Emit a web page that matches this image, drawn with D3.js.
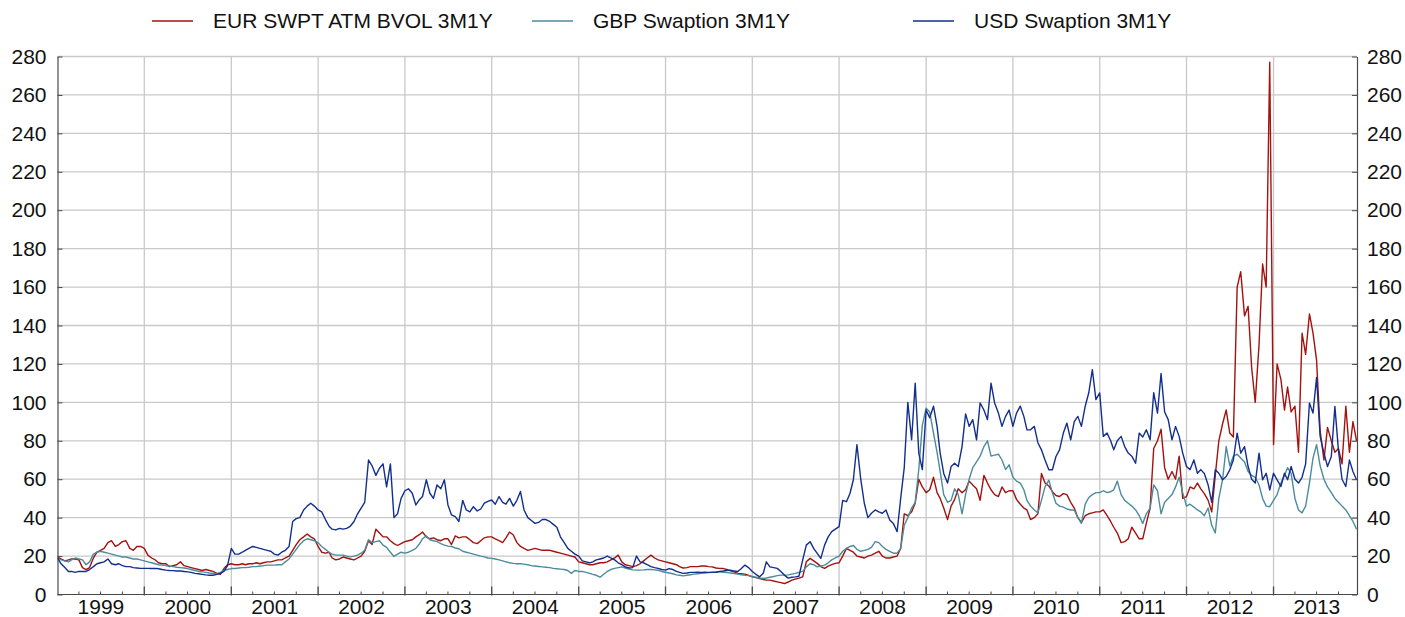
<!DOCTYPE html>
<html>
<head>
<meta charset="utf-8">
<script src="https://cdn.jsdelivr.net/npm/d3@7"></script>
<style>
  body { margin: 0; background: #fff; }
  svg { display: block; }
  text { font-family: "Liberation Sans", Arial, Helvetica, sans-serif; fill: #111; }
</style>
</head>
<body>
<svg id="chart" width="1405" height="617"></svg>
<script>
// Series names, in legend order
const seriesNames = ["EUR SWPT ATM BVOL 3M1Y", "GBP Swaption 3M1Y", "USD Swaption 3M1Y"];

// Semi-monthly readings (1st and 16th of each month), Jan 1999 - Dec 2013, one row per year
const eurVol = [
  19.5, 18.5, 17.5, 18, 18.5, 18.5, 18, 14, 13, 14, 19, 22, 23, 24, 27, 28, 25, 26, 27.5, 28, 24, 23, 25, 25,
  24, 20.5, 19, 18, 16.5, 16, 16, 14.5, 15, 15.5, 17, 15, 14.5, 14, 13.5, 13, 12.5, 13, 12.5, 12, 11, 10.5, 13.5, 15.5,
  16, 15.5, 15.5, 16, 15.5, 16, 16, 16.5, 16, 16.5, 17, 17, 17.5, 18, 18, 19, 20, 23, 26, 28.5, 30, 31.5, 30, 29,
  25, 22, 21.5, 22, 19, 18, 18.5, 19.5, 19, 18.5, 18, 19, 20, 22.5, 28, 26, 34, 32, 30, 30, 28, 26.5, 25.5, 26.5,
  27.5, 28, 28.5, 30, 31, 32.5, 30, 29, 29.5, 28.5, 28, 29, 29, 26, 30.5, 29.5, 30, 30, 28.5, 27, 26.5, 28, 29.5, 30,
  30, 29, 28, 27, 29.5, 32.5, 31, 27, 25, 24, 23, 23.5, 24, 23.5, 23, 23, 23, 22.5, 22, 21.5, 21, 20.5, 20, 19.5,
  17, 16.5, 16, 15.5, 15.5, 16, 16.5, 16.5, 17, 18, 19, 20.5, 17, 15.5, 15, 14.5, 15, 16, 17.5, 19, 20.5, 19, 18, 17.5,
  17, 16.5, 16, 15.5, 14.5, 13.8, 14, 14.5, 14.5, 14.5, 14.8, 14.8, 14.5, 14.4, 13.8, 13.6, 13.5, 13, 12.3, 11.8, 11, 10.8, 10.6, 10,
  9.2, 8.8, 8.3, 7.8, 7.5, 7.5, 7, 6.6, 6.2, 5.7, 6.5, 7.5, 8, 8.5, 9.2, 17, 18.8, 17.5, 16.2, 14.5, 13.6, 14.8, 15.5, 16.2,
  16.5, 20, 24, 23, 22, 20, 19.5, 19, 20, 20.5, 21.5, 22.5, 20, 19, 19, 19.5, 20, 24, 42, 41, 43, 47.5, 60, 56,
  53, 54.5, 61, 53, 50, 45, 39, 46, 49.5, 55, 53, 54.5, 59, 57, 55, 49, 62, 58, 54.5, 52, 51, 56, 53, 54,
  54, 49.5, 47, 45, 44, 39, 40, 42, 63, 58, 56.5, 53.5, 51.5, 51, 52.5, 52, 48, 45, 40, 37.5, 41, 42, 42.5, 43,
  43, 44, 41, 38, 35, 32, 27, 27.5, 29, 35, 32, 29, 29, 37, 45, 76, 80, 86, 66, 60, 64, 60, 72, 50,
  51, 56, 55, 58, 55, 52.5, 49, 43, 62, 80, 89, 96, 84, 82, 160, 168, 145, 150, 118, 100, 130, 172, 160, 277,
  78, 120, 112, 96, 108, 95, 98, 74, 136, 125, 146, 136, 122, 85, 70, 87, 80, 74, 76, 68, 98, 74, 90, 80
];

const gbpVol = [
  19, 18, 17.5, 17, 18, 19, 18.5, 18, 15.5, 17, 21, 22, 22.5, 22, 21.5, 21, 20.5, 20, 19.5, 19.5, 19, 18.5, 18.5, 18,
  17.5, 17, 16.5, 16, 15.5, 15.3, 15, 14.8, 14.5, 14.2, 14, 13.8, 13.5, 13, 12.5, 12, 11.8, 11.5, 11.2, 11, 11, 11.5, 12.5, 13,
  13.5, 13.5, 13.8, 14, 14, 14.2, 14.5, 14.5, 14.8, 15, 15.3, 15.3, 15.3, 15.5, 15.5, 17, 18.5, 21, 23.5, 26, 28, 29, 28.5, 28,
  27, 25, 23.5, 22, 21, 20.5, 20.5, 20.5, 20, 19.6, 20, 20.5, 21.5, 23, 28.5, 27, 27.5, 28, 25.7, 24.5, 22, 19.8, 21, 22,
  21.5, 22, 23, 24, 26, 29, 30.5, 28.5, 28, 27.5, 26.5, 25.7, 25.2, 25, 24.2, 23.8, 22.5, 22, 21.5, 21, 20.5, 20, 19.6, 19,
  18.8, 18.5, 18, 17.5, 17, 16.5, 16.2, 16, 16, 15.8, 15.5, 15, 14.8, 14.6, 14.4, 14.2, 14, 13.6, 13.4, 13.2, 13, 12.5, 11, 12.5,
  12, 12, 11.5, 11, 10.5, 10, 9, 10.5, 12, 13, 13.6, 14, 14.4, 13.8, 13.2, 12.8, 12.7, 12.7, 12.8, 13, 13, 12.8, 12.6, 12,
  11.6, 11.2, 10.8, 10.2, 10, 9.7, 10, 10.3, 10.6, 10.8, 11, 11.2, 11.4, 11.6, 11.8, 11.8, 11.6, 11.4, 11.2, 10.9, 10.6, 10.3, 10, 9.8,
  9.4, 9, 8.6, 8.3, 8.6, 9, 9.4, 9.8, 10.1, 10.1, 10.2, 10.6, 11, 11.5, 12, 14.4, 16, 15.5, 14.4, 14.8, 15.3, 16.5, 18, 19,
  20, 22.5, 24, 25, 25.5, 23.5, 22.5, 23, 23.5, 24.5, 27.5, 27, 25, 23.5, 22.5, 21.5, 21.5, 24, 36, 40, 45, 48, 65, 88,
  97, 95, 84, 74, 64, 52, 48, 49, 55, 52, 42, 52, 60, 66, 69, 72, 77, 80, 72, 72.5, 73, 70, 65, 67.5,
  61, 59, 58, 54.5, 49, 46, 44, 42.5, 49, 56, 59.5, 53, 47.5, 46, 45.5, 44.5, 44, 44, 40, 37, 47, 50.5, 52, 53,
  53, 54, 53, 53.5, 54.5, 59, 52, 49, 47.5, 46, 44, 41, 37, 42, 45, 57, 54, 42, 48, 50, 52, 56, 61, 53,
  46, 47, 45.5, 44, 43, 41, 45, 36, 32, 50, 60, 77, 67, 72, 73, 71, 69, 64, 62, 61, 57, 50, 46, 45.7,
  49, 52, 58, 62, 66, 63, 50, 44, 42.5, 46, 58, 71, 78, 67, 60, 56, 53, 50, 48, 46, 44, 41, 38, 34
];

const usdVol = [
  19, 16, 14, 12, 12, 11.5, 12, 12, 12, 13, 14.5, 16, 16.5, 17, 18.5, 16, 15.5, 16, 15, 14.5, 14.5, 14, 13.8, 13.6,
  13.6, 13.6, 13.5, 13.6, 13.4, 13, 12.7, 12.5, 12.4, 12.2, 12.2, 12, 11.8, 11.5, 11, 10.8, 10.5, 10.2, 10, 10, 10.5, 11, 12, 15,
  24, 21, 21, 22, 23, 24, 25, 24.5, 24, 23.5, 23, 22.5, 21, 20.5, 22, 23, 25, 38, 39.5, 40, 44, 46, 47.5, 46,
  44, 43, 39, 35.5, 34, 33.6, 34.4, 34, 34.4, 35.5, 38, 42, 45, 48, 70, 67, 62, 65.7, 68, 56, 68, 40, 42, 50,
  54, 55, 52.7, 46.6, 49, 51, 59.7, 52.7, 50, 57, 55, 59.7, 46.6, 41.4, 40.5, 38, 49, 44, 43, 45.7, 43.5, 44.5, 47.5, 48.5,
  49.2, 47, 51, 48, 47, 50, 46, 49, 53.6, 44, 40, 38.5, 37, 37.5, 39, 39, 38, 36.5, 35, 30, 27, 24, 22.5, 21,
  20, 17.5, 17, 16.5, 17, 18, 18.5, 19, 20, 19, 18, 16.5, 15.5, 14.4, 13.8, 14, 20, 17, 16.5, 15.5, 14.5, 14, 13.6, 13,
  12.7, 13.5, 13, 12, 11.5, 11, 11.2, 11.5, 11.5, 11.6, 11.5, 11.6, 11.5, 11.5, 11.6, 12, 12.2, 12.5, 12.7, 12.2, 12, 13.5, 15.3, 14,
  12, 10.5, 9.2, 11, 17, 14.4, 14, 13.6, 12, 10.1, 8.5, 9, 9.2, 9.5, 18, 25.7, 27.5, 24, 21.4, 18.8, 25.7, 30, 32.7, 34,
  35.3, 49, 48.3, 52.7, 59.7, 78, 60, 47.5, 40, 42.3, 44, 43, 42.3, 44, 38.8, 37, 32.7, 50, 66, 100, 80.5, 110, 73.6, 65,
  96, 92, 98, 87.5, 73.6, 63, 58, 66.6, 68.3, 66.6, 77, 94, 87.5, 91, 80.5, 99.7, 96, 91, 110, 99.7, 94.4, 87.5, 92.7, 96,
  87.5, 94.4, 98, 92.7, 85.7, 85.7, 87.5, 79, 75.3, 70, 64.9, 64.9, 71.8, 75.3, 84, 89.2, 80.5, 90, 92.7, 87.5, 98, 105, 117, 101.4,
  104.9, 82.3, 84, 80, 75.3, 80, 82.3, 77, 73.6, 72, 68.3, 84, 82, 85.7, 80.5, 105, 94.4, 115, 95, 91, 80.5, 87.5, 82.3, 73.6,
  66.6, 65, 70, 63.1, 65, 63, 57, 48, 64.9, 63.1, 59.7, 61.4, 64.9, 70, 84, 73.6, 77, 66.6, 60, 58, 73.6, 59.7, 63.1, 54.4,
  63.1, 59.7, 56.2, 63.1, 59.7, 66.6, 60, 58, 61, 68, 99.7, 94.4, 113, 82.3, 73.6, 66.6, 71.8, 97.9, 75, 60, 56.2, 70, 64, 59.7
];

const yTickValues = [0, 20, 40, 60, 80, 100, 120, 140, 160, 180, 200, 220, 240, 260, 280];
const yearLabels = [1999, 2000, 2001, 2002, 2003, 2004, 2005, 2006, 2007, 2008, 2009, 2010, 2011, 2012, 2013];
const seriesColors = ["#a3120e", "#4b8c9c", "#122f8d"];

// Observation dates: 1st and 16th of every month
const obsDates = d3.range(yearLabels.length * 12).flatMap(m => [
  new Date(Date.UTC(1999, m, 1)), new Date(Date.UTC(1999, m, 16))
]);

const svg = d3.select("#chart");
const plot = { left: 57.5, right: 1357, top: 56.5, bottom: 594.5 };
const fontSize = 21;

const x = d3.scaleUtc()
  .domain([new Date(Date.UTC(1999, 0, 1)), new Date(Date.UTC(2013, 11, 18))])
  .range([plot.left, plot.right]);
const y = d3.scaleLinear().domain([0, 280]).range([plot.bottom, plot.top]);

const gridColor = "#c9c9c9";
const axisColor = "#4a4a4a";

// Horizontal gridlines
svg.append("g").selectAll("line")
  .data(yTickValues.filter(v => v > 0))
  .join("line")
  .attr("x1", plot.left).attr("x2", plot.right)
  .attr("y1", d => y(d)).attr("y2", d => y(d))
  .attr("stroke", gridColor).attr("stroke-width", 1.3);

// Vertical gridlines at year boundaries
const yearStarts = yearLabels.slice(1).map(yr => new Date(Date.UTC(yr, 0, 1)));
svg.append("g").selectAll("line")
  .data(yearStarts)
  .join("line")
  .attr("x1", d => x(d)).attr("x2", d => x(d))
  .attr("y1", plot.top).attr("y2", plot.bottom)
  .attr("stroke", gridColor).attr("stroke-width", 1.3);

// Left and right value axes (ticks point inward)
const leftAxis = d3.axisLeft(y).tickValues(yTickValues).tickSize(-5).tickPadding(11).tickSizeOuter(0);
const rightAxis = d3.axisRight(y).tickValues(yTickValues).tickSize(-5).tickPadding(10).tickSizeOuter(0);

function styleAxis(g) {
  g.select(".domain").attr("stroke", axisColor).attr("stroke-width", 1.2);
  g.selectAll(".tick line").attr("stroke", axisColor);
  g.selectAll(".tick text").attr("font-size", fontSize).attr("fill", "#111")
    .attr("font-family", "'Liberation Sans', Arial, sans-serif");
}
svg.append("g").attr("transform", `translate(${plot.left},0)`).call(leftAxis).call(styleAxis);
svg.append("g").attr("transform", `translate(${plot.right},0)`).call(rightAxis).call(styleAxis);

// Bottom time axis: year ticks, quarterly minor ticks, labels centred in each year
const quarterStarts = d3.utcMonth.every(3).range(new Date(Date.UTC(1999, 0, 1)), new Date(Date.UTC(2013, 11, 18)))
  .filter(d => d.getUTCMonth() !== 0);
const bottom = svg.append("g");
bottom.append("line")
  .attr("x1", plot.left).attr("x2", plot.right)
  .attr("y1", plot.bottom).attr("y2", plot.bottom)
  .attr("stroke", axisColor).attr("stroke-width", 1.2);
bottom.selectAll("line.minor").data(quarterStarts).join("line").attr("class", "minor")
  .attr("x1", d => x(d)).attr("x2", d => x(d))
  .attr("y1", plot.bottom).attr("y2", plot.bottom - 3)
  .attr("stroke", axisColor);
bottom.selectAll("line.major").data(yearStarts).join("line").attr("class", "major")
  .attr("x1", d => x(d)).attr("x2", d => x(d))
  .attr("y1", plot.bottom + 1).attr("y2", plot.bottom - 8)
  .attr("stroke", axisColor).attr("stroke-width", 1.3);
bottom.selectAll("text").data(yearLabels).join("text")
  .attr("x", yr => (x(new Date(Date.UTC(yr, 0, 1))) + x(new Date(Date.UTC(yr + 1, 0, 1)))) / 2)
  .attr("y", 614)
  .attr("text-anchor", "middle")
  .attr("font-size", fontSize)
  .text(yr => yr);

// Series lines, clipped to the plot area
svg.append("clipPath").attr("id", "plot-clip")
  .append("rect").attr("x", plot.left).attr("y", plot.top - 2)
  .attr("width", plot.right - plot.left).attr("height", plot.bottom - plot.top + 2);

const line = d3.line()
  .x((d, i) => x(obsDates[i]))
  .y(d => y(d));

const series = [eurVol, gbpVol, usdVol];
svg.append("g").attr("clip-path", "url(#plot-clip)")
  .selectAll("path")
  .data(series)
  .join("path")
  .attr("d", d => line(d))
  .attr("fill", "none")
  .attr("stroke", (d, i) => seriesColors[i])
  .attr("stroke-width", 1.4)
  .attr("stroke-linejoin", "round");

// Legend
const legendX = [152, 532, 913];
const legend = svg.append("g").selectAll("g")
  .data(seriesNames)
  .join("g")
  .attr("transform", (d, i) => `translate(${legendX[i]},21)`);
legend.append("line")
  .attr("x1", 0).attr("x2", 41).attr("y1", 0).attr("y2", 0)
  .attr("stroke", (d, i) => seriesColors[i]).attr("stroke-width", 1.3);
legend.append("text")
  .attr("x", 61).attr("y", 0).attr("dy", "0.35em")
  .attr("font-size", fontSize)
  .text(d => d);
</script>
</body>
</html>
